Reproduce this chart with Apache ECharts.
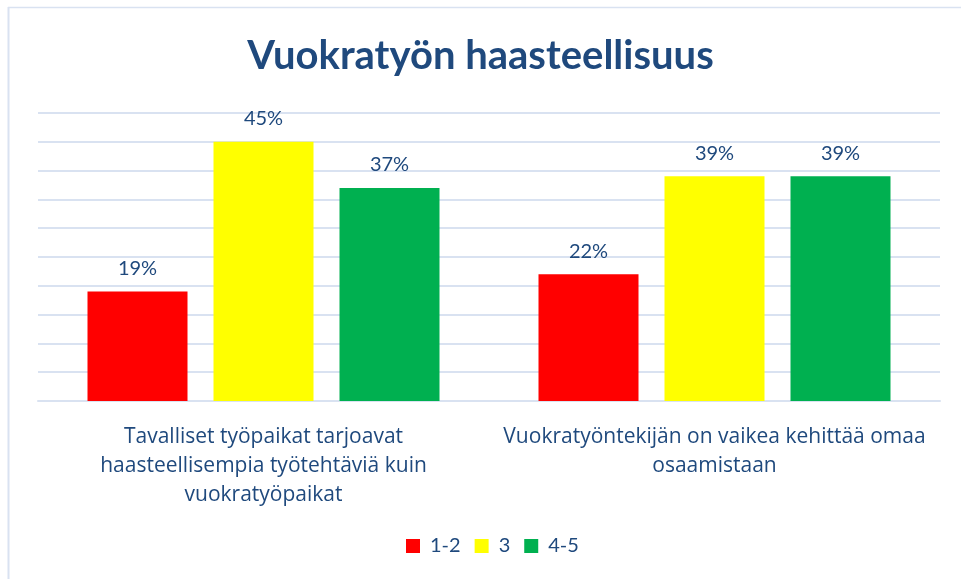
<!DOCTYPE html>
<html>
<head>
<meta charset="utf-8">
<script src="https://cdn.jsdelivr.net/npm/echarts@6/dist/echarts.min.js"></script>
<style>
html, body {margin: 0; padding: 0; background: #fff;}
#chart {width: 961px; height: 579px;}
</style>
</head>
<body>
<div id="chart"></div>
<script>
// 数据
var categories = ['Tavalliset työpaikat tarjoavat\nhaasteellisempia työtehtäviä kuin\nvuokratyöpaikat', 'Vuokratyöntekijän on vaikea kehittää omaa\nosaamistaan'];
var seriesNames = ['1-2', '3', '4-5'];
var values12 = [19, 22];
var values3 = [45, 39];
var values45 = [37, 39];
var colors = ['#ff0000', '#ffff00', '#00b050'];

var textColor = '#1f497d';
var gridColor = '#d9e2f1';

(function () {
    var chart = echarts.init(document.getElementById('chart'));

    function bar(name, data, color) {
        return {
            name: name,
            type: 'bar',
            barWidth: 100,
            barGap: '26%',
            data: data,
            itemStyle: {color: color},
            label: {
                show: true,
                position: 'top',
                distance: 13,
                formatter: '{c}%',
                color: textColor,
                fontSize: 20,
                fontFamily: 'Lato'
            }
        };
    }

    var option = {
        animation: false,
        title: {
            text: 'Vuokratyön haasteellisuus',
            left: 'center',
            top: 31,
            textStyle: {
                color: textColor,
                fontSize: 40,
                fontWeight: 'bold',
                fontFamily: 'Lato'
            }
        },
        graphic: [
            {type: 'line', shape: {x1: 8.5, y1: 7, x2: 8.5, y2: 579}, style: {stroke: gridColor, lineWidth: 2}},
            {type: 'line', shape: {x1: 8, y1: 7.5, x2: 961, y2: 7.5}, style: {stroke: gridColor, lineWidth: 1.5}}
        ],
        legend: {
            bottom: 18,
            left: 401,
            itemWidth: 14,
            itemHeight: 14,
            itemGap: 14,
            icon: 'rect',
            data: seriesNames,
            textStyle: {color: textColor, fontSize: 20, fontFamily: 'Lato', padding: [0, 0, 0, 5]}
        },
        grid: {left: 38, right: 21, top: 113, bottom: 178},
        xAxis: {
            type: 'category',
            data: categories,
            axisLine: {show: true, lineStyle: {color: gridColor, width: 2}},
            axisTick: {show: false},
            axisLabel: {
                interval: 0,
                margin: 22,
                color: textColor,
                fontSize: 21,
                lineHeight: 29,
                fontFamily: 'Open Sans',
                align: 'center'
            }
        },
        yAxis: {
            type: 'value',
            min: 0,
            max: 50,
            interval: 5,
            axisLabel: {show: false},
            axisLine: {show: false},
            axisTick: {show: false},
            splitLine: {lineStyle: {color: gridColor, width: 2}}
        },
        series: [
            bar(seriesNames[0], values12, colors[0]),
            bar(seriesNames[1], values3, colors[1]),
            bar(seriesNames[2], values45, colors[2])
        ]
    };

    chart.setOption(option);
})();
</script>
</body>
</html>
